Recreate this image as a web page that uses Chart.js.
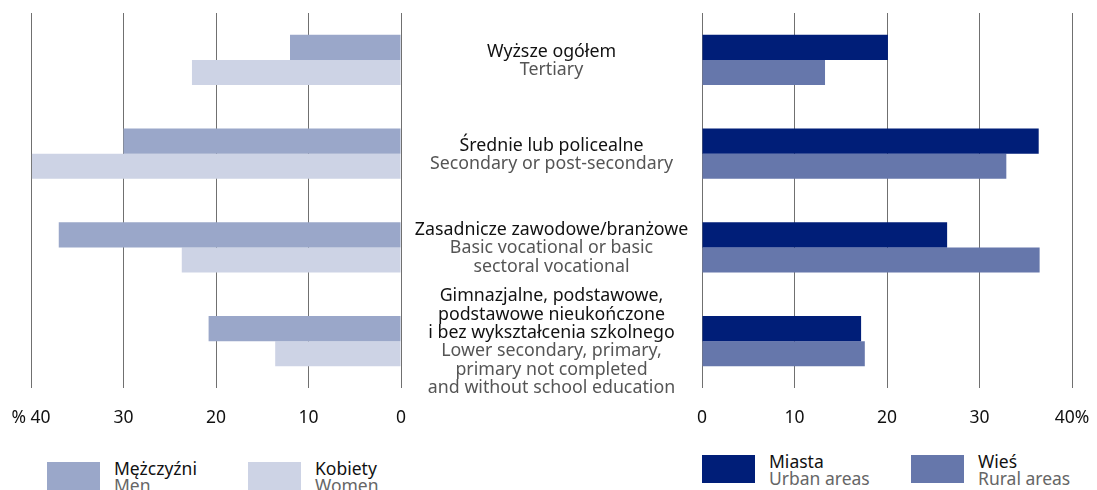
<!DOCTYPE html>
<html>
<head>
<meta charset="utf-8">
<script src="https://cdn.jsdelivr.net/npm/chart.js@4"></script>
<style>
  body { margin: 0; background: #fff; font-family: "Noto Sans", sans-serif; }
  #wrap { position: relative; width: 1097px; height: 490px; overflow: hidden; }
  canvas { position: absolute; top: 0; }
  #leftChart { left: 0; }
  #rightChart { left: 690px; }
  .legend { position: absolute; }
  .item { position: absolute; top: 0; display: flex; align-items: flex-start; white-space: nowrap; }
  .sw { width: 53px; height: 28px; margin-right: 14px; flex: none; }
  .txt { font-size: 17.5px; line-height: 17px; color: #111; margin-top: -2px; }
  .txt span { display: block; color: #666; }
</style>
</head>
<body>
<div id="wrap">
  <canvas id="leftChart" width="702" height="429"></canvas>
  <canvas id="rightChart" width="407" height="429"></canvas>
  <div class="legend" id="legendLeft" style="left:47px; top:462px;"></div>
  <div class="legend" id="legendRight" style="left:702px; top:455px;"></div>
</div>
<script>
    /* Data */
    const categoriesPl = [
        ['Wyższe ogółem'],
        ['Średnie lub policealne'],
        ['Zasadnicze zawodowe/branżowe'],
        ['Gimnazjalne, podstawowe,', 'podstawowe nieukończone', 'i bez wykształcenia szkolnego']
    ];
    const categoriesEn = [
        ['Tertiary'],
        ['Secondary or post-secondary'],
        ['Basic vocational or basic', 'sectoral vocational'],
        ['Lower secondary, primary,', 'primary not completed', 'and without school education']
    ];

    const men   = [12.0, 30.0, 37.0, 20.8];
    const women = [22.6, 39.9, 23.7, 13.6];
    const urban = [20.1, 36.4, 26.5, 17.2];
    const rural = [13.3, 32.9, 36.5, 17.6];

    const xTicks = [0, 10, 20, 30, 40];

    const seriesLeft = [
        { pl: 'Mężczyźni', en: 'Men', data: men, color: '#9aa7c9' },
        { pl: 'Kobiety', en: 'Women', data: women, color: '#cdd3e5' }
    ];
    const seriesRight = [
        { pl: 'Miasta', en: 'Urban areas', data: urban, color: '#001e78' },
        { pl: 'Wieś', en: 'Rural areas', data: rural, color: '#6677ab' }
    ];

    const keys = categoriesPl.map(c => c.join(' '));
    const FONT = '"Noto Sans", sans-serif';
    const FS = 17.5;

    /* Category labels drawn in the middle gap */
    const centerLabels = {
        id: 'centerLabels',
        afterDraw(chart) {
            const ctx = chart.ctx;
            const y = chart.scales.y;
            const cx = chart.chartArea.right + (chart.width - chart.chartArea.right) / 2;
            const lh = 18.3;
            ctx.save();
            ctx.font = '17.8px ' + FONT;
            ctx.textAlign = 'center';
            ctx.textBaseline = 'middle';
            keys.forEach((k, i) => {
                const lines = categoriesPl[i].map(t => [t, '#111'])
                    .concat(categoriesEn[i].map(t => [t, '#555']));
                const mid = y.getPixelForValue(i) + 1;
                let ty = mid - (lines.length - 1) * lh / 2;
                lines.forEach(([t, c]) => {
                    ctx.fillStyle = c;
                    ctx.fillText(t, cx, ty);
                    ty += lh;
                });
            });
            ctx.restore();
        }
    };

    function makeChart(id, series, reverse, padding, tickFmt, plugins) {
        return new Chart(document.getElementById(id), {
            type: 'bar',
            data: {
                labels: keys,
                datasets: series.map(s => ({
                    label: s.pl,
                    data: s.data,
                    backgroundColor: s.color,
                    borderWidth: 0,
                    categoryPercentage: 0.535,
                    barPercentage: 1
                }))
            },
            options: {
                indexAxis: 'y',
                responsive: false,
                animation: false,
                devicePixelRatio: 1,
                layout: { padding: padding, autoPadding: false },
                plugins: { legend: { display: false }, tooltip: { enabled: false } },
                scales: {
                    x: {
                        min: 0, max: 40, reverse: reverse,
                        afterBuildTicks: ax => { ax.ticks = xTicks.map(v => ({ value: v })); },
                        grid: { color: '#707070', lineWidth: 1, drawTicks: true, tickLength: 20, tickColor: 'rgba(0,0,0,0)' },
                        border: { display: false },
                        ticks: {
                            padding: 0,
                            color: '#111',
                            font: { family: FONT, size: FS },
                            callback: tickFmt
                        }
                    },
                    y: { display: false }
                }
            },
            plugins: plugins
        });
    }

    makeChart('leftChart', seriesLeft, true,
        { left: 31, right: 301, top: 13, bottom: 0 },
        v => v === 40 ? '% 40' : String(v), [centerLabels]);
    makeChart('rightChart', seriesRight, false,
        { left: 12, right: 25, top: 13, bottom: 0 },
        v => v === 40 ? '40%' : String(v), []);

    /* Legends */
    function buildLegend(el, series, offsets) {
        series.forEach((s, i) => {
            const item = document.createElement('div');
            item.className = 'item';
            item.style.left = offsets[i] + 'px';
            item.innerHTML = '<div class="sw" style="background:' + s.color + '"></div>' +
                '<div class="txt">' + s.pl + '<span>' + s.en + '</span></div>';
            el.appendChild(item);
        });
    }
    buildLegend(document.getElementById('legendLeft'), seriesLeft, [0, 201]);
    buildLegend(document.getElementById('legendRight'), seriesRight, [0, 209]);
</script>
</body>
</html>
